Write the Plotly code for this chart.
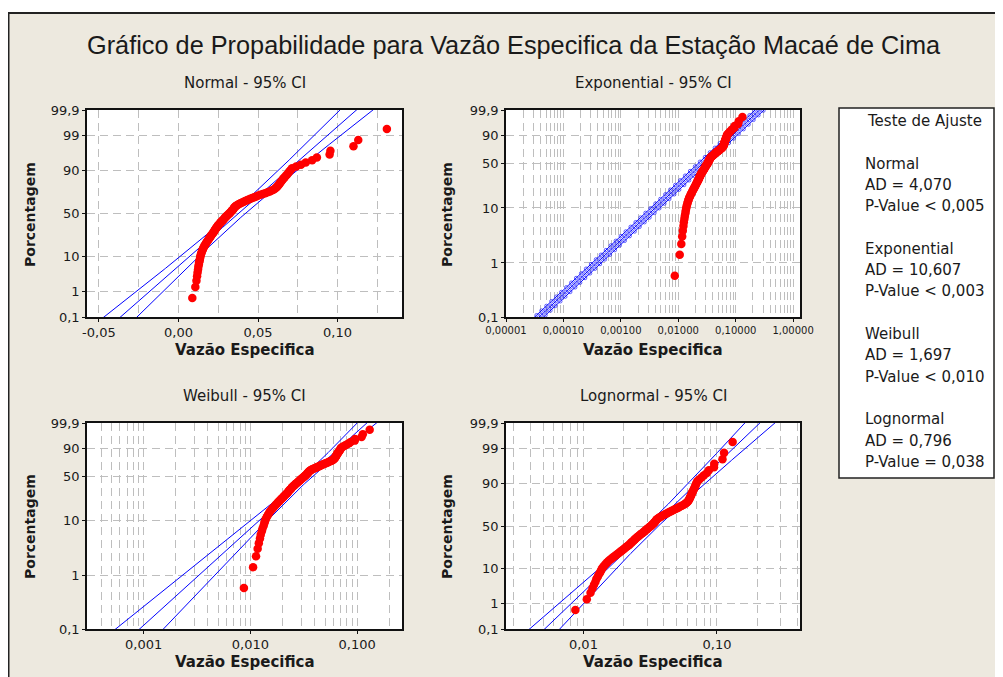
import numpy as np
import plotly.graph_objects as go
from statistics import NormalDist

# page is shown with the browser's 8px body margin, so the figure is placed at (8, 8)
OFF = 8
W, H = 1003 - OFF, 677 - OFF

# ---------------- data ----------------
vazao_especifica = [
    0.0087, 0.0106, 0.0113, 0.0117, 0.0120, 0.0123, 0.0125, 0.0128, 0.0130, 0.0133,
    0.0135, 0.0137, 0.0139, 0.0142, 0.0145, 0.0148, 0.0151, 0.0154, 0.0158, 0.0162,
    0.0166, 0.0170, 0.0174, 0.0178, 0.0182, 0.0186, 0.0190, 0.0194, 0.0198, 0.0202,
    0.0205, 0.0209, 0.0213, 0.0217, 0.0221, 0.0224, 0.0227, 0.0230, 0.0233, 0.0237,
    0.0240, 0.0243, 0.0246, 0.0250, 0.0254, 0.0258, 0.0262, 0.0266, 0.0270, 0.0275,
    0.0279, 0.0283, 0.0287, 0.0291, 0.0295, 0.0299, 0.0303, 0.0308, 0.0313, 0.0318,
    0.0322, 0.0326, 0.0330, 0.0334, 0.0338, 0.0342, 0.0345, 0.0348, 0.0351, 0.0355,
    0.0360, 0.0366, 0.0373, 0.0381, 0.0390, 0.0400, 0.0410, 0.0420, 0.0430, 0.0441,
    0.0452, 0.0464, 0.0476, 0.0489, 0.0502, 0.0516, 0.0530, 0.0545, 0.0560, 0.0574,
    0.0586, 0.0597, 0.0606, 0.0613, 0.0619, 0.0624, 0.0629, 0.0634, 0.0639, 0.0644,
    0.0649, 0.0655, 0.0661, 0.0668, 0.0675, 0.0683, 0.0690, 0.0697, 0.0705, 0.0714,
    0.0740, 0.0770, 0.0800, 0.0840, 0.0870, 0.0950, 0.0955, 0.1100, 0.1130, 0.1310,
]

# fitted distribution parameters
normal_fit = [0.0377, 0.0240]          # mean, standard deviation
lognormal_fit = [-3.419, 0.6005]       # location, scale (natural log)
weibull_fit = [1.804, 0.0422]          # shape, scale
exponential_fit = [0.0377]             # mean

pct_ticks_normal = [0.1, 1, 10, 50, 90, 99, 99.9]
pct_text_normal = ["0,1", "1", "10", "50", "90", "99", "99,9"]
pct_ticks_ev = [0.1, 1, 10, 50, 90, 99.9]
pct_text_ev = ["0,1", "1", "10", "50", "90", "99,9"]

x_ticks_normal = [-0.05, 0.0, 0.05, 0.10]
x_text_normal = ["-0,05", "0,00", "0,05", "0,10"]
x_minor_normal = [-0.025, 0.025, 0.075, 0.125]
x_ticks_expon = [1e-5, 1e-4, 1e-3, 1e-2, 1e-1, 1.0]
x_text_expon = ["0,00001", "0,00010", "0,00100", "0,01000", "0,10000", "1,00000"]
x_ticks_weibull = [0.001, 0.01, 0.1]
x_text_weibull = ["0,001", "0,010", "0,100"]
x_ticks_lognormal = [0.01, 0.1]
x_text_lognormal = ["0,01", "0,10"]

main_title = "Gráfico de Propabilidade para Vazão Especifica da Estação Macaé de Cima"
panel_titles = ["Normal - 95% CI", "Exponential - 95% CI",
                "Weibull - 95% CI", "Lognormal - 95% CI"]
x_title = "Vazão Especifica"
y_title = "Porcentagem"
goodness_lines = ["Teste de Ajuste", "", "Normal", "AD = 4,070", "P-Value < 0,005", "",
                  "Exponential", "AD = 10,607", "P-Value < 0,003", "",
                  "Weibull", "AD = 1,697", "P-Value < 0,010", "",
                  "Lognormal", "AD = 0,796", "P-Value = 0,038"]

# ---------------- styling ----------------
BEIGE = "#EDE9DF"
RED = "#FF0000"
BLUE = "#0000FF"
GRID = "#BEBEBE"
GDASH = "8px,5px"
TXT = "#1A1A1A"
FONT = "DejaVu Sans, Verdana, sans-serif"

# ---------------- computations ----------------
nd = NormalDist()
Z975 = nd.inv_cdf(0.975)


def zq(p):
    return np.array([nd.inv_cdf(float(v)) for v in np.atleast_1d(p)])


def wq(p):
    p = np.atleast_1d(np.asarray(p, dtype=float))
    return np.log(-np.log(1.0 - p))


x = np.sort(np.array(vazao_especifica))
n = len(x)
rank = np.arange(1, n + 1)
pp = (rank - 0.3) / (n + 0.4)          # median ranks (Benard)
y_norm = zq(pp)
y_ev = wq(pp)

zz = np.linspace(zq(0.0004)[0], zq(0.9996)[0], 200)
ww = np.linspace(wq(0.0004)[0], wq(0.9996)[0], 200)

# normal
mu, sd = normal_fit
n_c = mu + sd * zz
n_se = sd * np.sqrt(1.0 / n + zz ** 2 / (2.0 * n))
# lognormal
lm, ls = lognormal_fit
ln_c = lm + ls * zz
ln_se = ls * np.sqrt(1.0 / n + zz ** 2 / (2.0 * n))
# exponential
theta = exponential_fit[0]
e_c = theta * np.exp(ww)
e_f = np.exp(Z975 / np.sqrt(n))
# weibull
beta, eta = weibull_fit
u, bb = np.log(eta), 1.0 / beta
w_c = u + bb * ww
w_se = bb * np.sqrt((1.1087 + 0.6079 * ww ** 2 + 0.5140 * ww) / n)

fig = go.Figure()


def add_panel(xa, ya, xc, xl, xu, yline, ypts, chain=False):
    for xv in (xl, xc, xu):
        fig.add_trace(go.Scatter(x=xv, y=yline, mode="lines", xaxis=xa, yaxis=ya,
                                 line=dict(color=BLUE, width=1), hoverinfo="skip"))
        if chain:
            fig.add_trace(go.Scatter(x=xv[::4], y=yline[::4], mode="markers", xaxis=xa, yaxis=ya,
                                     marker=dict(symbol="circle-open", size=3.5,
                                                 color=BLUE, line=dict(width=0.6)),
                                     hoverinfo="skip"))
    fig.add_trace(go.Scatter(x=x, y=ypts, mode="markers", xaxis=xa, yaxis=ya,
                             marker=dict(color=RED, size=8.5, line=dict(width=0))))


add_panel("x", "y", n_c, n_c - Z975 * n_se, n_c + Z975 * n_se, zz, y_norm)
add_panel("x2", "y2", e_c, e_c / e_f, e_c * e_f, ww, y_ev, chain=True)
add_panel("x3", "y3", np.exp(w_c), np.exp(w_c - Z975 * w_se), np.exp(w_c + Z975 * w_se), ww, y_ev)
add_panel("x4", "y4", np.exp(ln_c), np.exp(ln_c - Z975 * ln_se), np.exp(ln_c + Z975 * ln_se), zz, y_norm)


def px_x(p):
    return (p - OFF) / W


def px_y(p):
    return 1 - (p - OFF) / H


common = dict(showgrid=True, gridcolor=GRID, griddash=GDASH, gridwidth=1, zeroline=False,
              showline=True, linecolor="#111111", linewidth=1.5, mirror=True,
              ticks="outside", ticklen=3, tickcolor="#111111", automargin=False,
              tickfont=dict(family=FONT, size=13, color=TXT))


def log_minor(lo_exp, hi_exp):
    vals = []
    for d in range(lo_exp, hi_exp + 1):
        for k in range(2, 10):
            vals.append(k * 10.0 ** d)
    return dict(tickvals=vals, showgrid=True, gridcolor=GRID, griddash=GDASH, ticks="")


dom_top = [px_y(317), px_y(110)]
dom_bot = [px_y(629), px_y(423)]
dom_left = [px_x(87), px_x(402)]
dom_right = [px_x(506), px_x(800)]


def yax(domain, ticks, text, tf, anchor):
    d = dict(common)
    d.update(domain=domain, anchor=anchor, range=[tf(0.001)[0], tf(0.999)[0]],
             tickmode="array", tickvals=list(tf(np.array(ticks) / 100.0)), ticktext=text)
    return d


fig.update_layout(
    template="none",
    width=W, height=H, margin=dict(l=0, r=0, t=0, b=0, pad=0, autoexpand=False),
    paper_bgcolor=BEIGE, plot_bgcolor="white", showlegend=False,
    xaxis=dict(common, domain=dom_left, anchor="y", range=[-0.0575, 0.1405],
               tickmode="array", tickvals=x_ticks_normal, ticktext=x_text_normal,
               minor=dict(tickvals=x_minor_normal, showgrid=True, gridcolor=GRID,
                          griddash=GDASH, ticks="")),
    yaxis=yax(dom_top, pct_ticks_normal, pct_text_normal, zq, "x"),
    xaxis2=dict(common, domain=dom_right, anchor="y2", type="log", range=[-5.0, 0.12],
                tickmode="array", tickvals=x_ticks_expon, ticktext=x_text_expon,
                tickfont=dict(family=FONT, size=10, color=TXT), minor=log_minor(-5, 0)),
    yaxis2=yax(dom_top, pct_ticks_ev, pct_text_ev, wq, "x2"),
    xaxis3=dict(common, domain=dom_left, anchor="y3", type="log", range=[-3.53, -0.58],
                tickmode="array", tickvals=x_ticks_weibull, ticktext=x_text_weibull,
                minor=log_minor(-4, -1)),
    yaxis3=yax(dom_bot, pct_ticks_ev, pct_text_ev, wq, "x3"),
    xaxis4=dict(common, domain=dom_right, anchor="y4", type="log", range=[-2.58, -0.378],
                tickmode="array", tickvals=x_ticks_lognormal, ticktext=x_text_lognormal,
                minor=log_minor(-3, -1)),
    yaxis4=yax(dom_bot, pct_ticks_normal, pct_text_normal, zq, "x4"),
)

shapes = [
    dict(type="rect", xref="paper", yref="paper", x0=0, x1=1, y0=px_y(13), y1=1,
         fillcolor="white", line=dict(width=0), layer="below"),
    dict(type="line", xref="paper", yref="paper", x0=0, x1=1, y0=px_y(13), y1=px_y(13),
         line=dict(color="#222222", width=2)),
    dict(type="line", xref="paper", yref="paper", x0=0.5 / W, x1=0.5 / W, y0=0, y1=px_y(13),
         line=dict(color="#222222", width=2)),
    dict(type="rect", xref="paper", yref="paper", x0=px_x(839), x1=px_x(994),
         y0=px_y(478), y1=px_y(108), fillcolor="white", line=dict(color="#222222", width=1.5)),
]
fig.update_layout(shapes=shapes)

ann = []
ann.append(dict(text=main_title, x=px_x(514), y=px_y(45),
                font=dict(family="Liberation Sans, Arial", size=25.3, color=TXT)))
centers_x = [(87 + 402) / 2, (506 + 800) / 2, (87 + 402) / 2, (506 + 800) / 2]
title_y = [83, 83, 396, 396]
xlab_y = [350, 350, 662, 662]
ylab_x = [30, 447, 30, 447]
ylab_y = [215, 215, 527, 527]
for i in range(4):
    ann.append(dict(text=panel_titles[i], x=px_x(centers_x[i]), y=px_y(title_y[i]),
                    font=dict(family=FONT, size=15, color=TXT)))
    ann.append(dict(text="<b>%s</b>" % x_title, x=px_x(centers_x[i]), y=px_y(xlab_y[i]),
                    font=dict(family=FONT, size=15, color=TXT)))
    ann.append(dict(text="<b>%s</b>" % y_title, x=px_x(ylab_x[i]), y=px_y(ylab_y[i]),
                    textangle=-90, font=dict(family=FONT, size=14, color=TXT)))
for k, line in enumerate(goodness_lines):
    if line:
        ann.append(dict(text=line, x=px_x(863 if k else 865), y=px_y(121 + 21.3 * k),
                        xanchor="left", font=dict(family=FONT, size=15, color=TXT)))
for a in ann:
    a.update(xref="paper", yref="paper", showarrow=False)
    a.setdefault("xanchor", "center")
    a.setdefault("yanchor", "middle")
fig.update_layout(annotations=ann)

fig.write_html("out.html")
